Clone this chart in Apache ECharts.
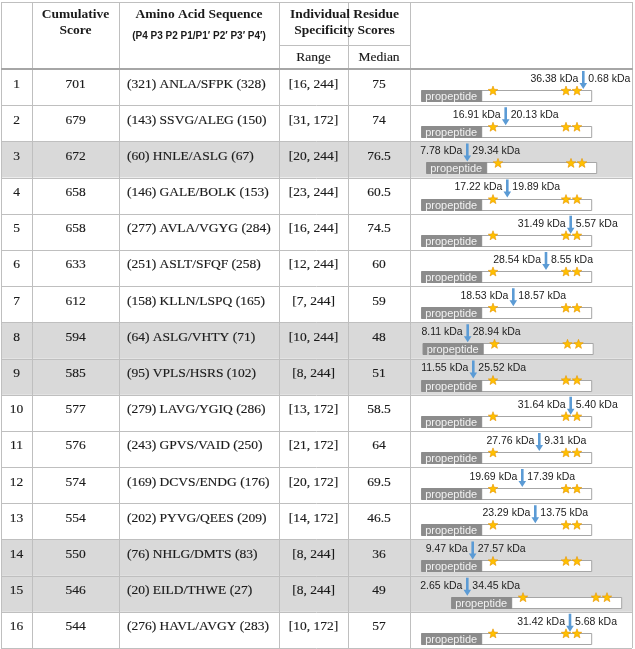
<!DOCTYPE html>
<html>
<head>
<meta charset="utf-8">
<title>Cleavage sites</title>
<script src="https://cdn.jsdelivr.net/npm/echarts@6/dist/echarts.min.js"></script>
<style>
  html, body { margin: 0; padding: 0; background: #fff; }
  #chart { width: 635px; height: 649px; }
</style>
</head>
<body>
<div id="chart"></div>
<script>
// table values
const ranks = ['1', '2', '3', '4', '5', '6', '7', '8', '9', '10', '11', '12', '13', '14', '15', '16'];
const scores = [701, 679, 672, 658, 658, 633, 612, 594, 585, 577, 576, 574, 554, 550, 546, 544];
const sequences = [
  '(321) ANLA/SFPK (328)', '(143) SSVG/ALEG (150)', '(60) HNLE/ASLG (67)', '(146) GALE/BOLK (153)',
  '(277) AVLA/VGYG (284)', '(251) ASLT/SFQF (258)', '(158) KLLN/LSPQ (165)', '(64) ASLG/VHTY (71)',
  '(95) VPLS/HSRS (102)', '(279) LAVG/YGIQ (286)', '(243) GPVS/VAID (250)', '(169) DCVS/ENDG (176)',
  '(202) PYVG/QEES (209)', '(76) NHLG/DMTS (83)', '(20) EILD/THWE (27)', '(276) HAVL/AVGY (283)'
];
const rangeLow = [16, 31, 20, 23, 16, 12, 7, 10, 8, 13, 21, 20, 14, 8, 8, 10];
const rangeHigh = [244, 172, 244, 244, 244, 244, 244, 244, 244, 172, 172, 172, 172, 244, 244, 172];
const medians = [75, 74, 76.5, 60.5, 74.5, 60, 59, 48, 51, 58.5, 64, 69.5, 46.5, 36, 49, 57];
const shadedRows = [3, 8, 9, 14, 15];

// fragment masses either side of the cut
const leftMass = [36.38, 16.91, 7.78, 17.22, 31.49, 28.54, 18.53, 8.11, 11.55, 31.64, 27.76, 19.69, 23.29, 9.47, 2.65, 31.42];
const rightMass = [0.68, 20.13, 29.34, 19.89, 5.57, 8.55, 18.57, 28.94, 25.52, 5.40, 9.31, 17.39, 13.75, 27.57, 34.45, 5.68];
// diagram units: where each protein drawing starts and where the cut arrow sits
const propStart = [0, 0, 5, 0, 0, 0, 0, 1.5, 0, 0, 0, 0, 0, 0, 30, 0];
const cutSite = [161.6, 84, 45.6, 85.6, 149, 124.3, 91.6, 46, 51.6, 149, 117.6, 100.6, 113.6, 51, 45.6, 148.3];
const starSites = [71.3, 144.3, 155.3];
const propLength = 60;
const proteinLength = 170;

const lineColor = '#bfbfbf';
const textColor = '#1a1a1a';
const serif = '"Liberation Serif", "Times New Roman", serif';
const sans = '"Liberation Sans", Arial, sans-serif';
const colEdges = [1, 32, 119, 279, 348, 410, 632];

function txt(x, y, text, font, align, fill, weight) {
  const style = {
    x: x, y: y, text: text, font: font, fill: fill || textColor,
    align: align || 'center', verticalAlign: 'middle',
    textAlign: align || 'center', textVerticalAlign: 'middle'
  };
  if (weight) {
    style.stroke = fill || textColor;
    style.lineWidth = weight;
  }
  return { type: 'text', style: style };
}

function rowBox(api, i) {
  const h = api.size([0, 1])[1];
  const top = api.coord([0, i])[1] - h / 2;
  return { top: top, h: h };
}

function renderShade(params, api) {
  const i = api.value(0);
  if (shadedRows.indexOf(i + 1) < 0) return;
  const b = rowBox(api, i);
  return {
    type: 'rect',
    shape: { x: colEdges[0], y: b.top, width: colEdges[6] - colEdges[0], height: b.h },
    style: { fill: '#d9d9d9' }
  };
}

function renderCells(params, api) {
  const i = api.value(0);
  const b = rowBox(api, i);
  const y = b.top + 15;
  const font = '13.5px ' + serif;
  const w = 0.15;
  const lineY = Math.round(b.top + b.h) + 0.5;
  return {
    type: 'group',
    children: [
      {
        type: 'line',
        shape: { x1: colEdges[0], y1: lineY, x2: colEdges[6], y2: lineY },
        style: { stroke: lineColor, lineWidth: 1 }
      },
      txt(api.coord([16.5, i])[0], y, ranks[i], font, 'center', null, w),
      txt(api.coord([75.5, i])[0], y, String(scores[i]), font, 'center', null, w),
      txt(api.coord([127, i])[0], y, sequences[i], font, 'left', null, w),
      txt(api.coord([313.5, i])[0], y, '[' + rangeLow[i] + ', ' + rangeHigh[i] + ']', font, 'center', null, w),
      txt(api.coord([379, i])[0], y, String(medians[i]), font, 'center', null, w)
    ]
  };
}

function starPoints(cx, cy, ro, ri) {
  const pts = [];
  for (let k = 0; k < 10; k++) {
    const a = -Math.PI / 2 + k * Math.PI / 5;
    const r = k % 2 ? ri : ro;
    pts.push([cx + r * Math.cos(a), cy + r * Math.sin(a)]);
  }
  return pts;
}

function renderDiagram(params, api) {
  const i = api.value(0);
  const s = api.value(1);
  const b = rowBox(api, i);
  const x0 = api.coord([s, i])[0];
  const xp = api.coord([s + propLength, i])[0];
  const x1 = api.coord([s + proteinLength, i])[0];
  const xa = api.coord([api.value(2), i])[0];
  const barTop = Math.round(b.top + 21) + 0.5;
  const children = [
    {
      type: 'rect',
      shape: { x: x0, y: barTop, width: x1 - x0, height: 11 },
      style: { fill: '#fff', stroke: '#a6a6a6', lineWidth: 1 }
    },
    {
      type: 'rect',
      shape: { x: x0, y: barTop, width: xp - x0, height: 11 },
      style: { fill: '#8c8c8c', stroke: '#8c8c8c', lineWidth: 1 }
    },
    txt(x0 + 3.5, barTop + 6, 'propeptide', '11px ' + sans, 'left', '#f2f2f2')
  ];
  starSites.forEach(function (off) {
    const cx = api.coord([s + off, i])[0];
    children.push({
      type: 'polygon',
      shape: { points: starPoints(cx, b.top + 22, 5, 2.1) },
      style: { fill: '#ffc000', stroke: '#e59400', lineWidth: 0.6 }
    });
  });
  const ay0 = b.top + 2, ay1 = b.top + 20;
  children.push({
    type: 'polygon',
    shape: {
      points: [
        [xa - 1.3, ay0], [xa + 1.3, ay0], [xa + 1.3, ay1 - 6], [xa + 3.8, ay1 - 6],
        [xa, ay1], [xa - 3.8, ay1 - 6], [xa - 1.3, ay1 - 6]
      ]
    },
    style: { fill: '#5b9bd5' }
  });
  const ly = b.top + 10;
  children.push(txt(xa - 5, ly, api.value(3).toFixed(2) + ' kDa', '10.5px ' + sans, 'right', '#222'));
  children.push(txt(xa + 5, ly, api.value(4).toFixed(2) + ' kDa', '10.5px ' + sans, 'left', '#222'));
  return { type: 'group', children: children };
}

const rowData = ranks.map(function (r, i) {
  return [i, propStart[i], cutSite[i], leftMass[i], rightMass[i]];
});

// table frame and header
const frame = [];
const hl = function (y, xa, xb, w, c) {
  frame.push({
    type: 'line', z: 100,
    shape: { x1: xa, y1: y, x2: xb, y2: y },
    style: { stroke: c || lineColor, lineWidth: w || 1 }
  });
};
colEdges.forEach(function (x) {
  frame.push({
    type: 'line', z: 100,
    shape: { x1: x + 0.5, y1: 2.5, x2: x + 0.5, y2: 648 },
    style: { stroke: lineColor, lineWidth: 1 }
  });
});
hl(2.5, colEdges[0], colEdges[6] + 1);
hl(45.5, colEdges[3], colEdges[5]);
hl(69, colEdges[0], colEdges[6] + 1, 2, '#a6a6a6');
const hb = 'bold 13.5px ' + serif;
[
  txt(75.5, 15, 'Cumulative', hb), txt(75.5, 31, 'Score', hb),
  txt(199, 15, 'Amino Acid Sequence', hb),
  txt(199, 36, '(P4 P3 P2 P1/P1\u2032 P2\u2032 P3\u2032 P4\u2032)', 'bold 10px ' + sans),
  txt(344.5, 15, 'Individual Residue', hb), txt(344.5, 31, 'Specificity Scores', hb),
  txt(313.5, 57, 'Range', '13.5px ' + serif, 'center', null, 0.15),
  txt(379, 57, 'Median', '13.5px ' + serif, 'center', null, 0.15)
].forEach(function (t) { t.z = 100; frame.push(t); });

const chart = echarts.init(document.getElementById('chart'), null, { renderer: 'canvas' });
chart.setOption({
  animation: false,
  backgroundColor: '#fff',
  graphic: { elements: frame },
  grid: [
    { left: 0, right: 0, top: 69, bottom: 1 },
    { left: 421.7, width: 200, top: 69, bottom: 1 }
  ],
  xAxis: [
    { type: 'value', gridIndex: 0, min: 0, max: 635, show: false },
    { type: 'value', gridIndex: 1, min: 0, max: 200, show: false }
  ],
  yAxis: [
    { type: 'category', gridIndex: 0, data: ranks, inverse: true, show: false },
    { type: 'category', gridIndex: 1, data: ranks, inverse: true, show: false }
  ],
  series: [
    { type: 'custom', xAxisIndex: 0, yAxisIndex: 0, renderItem: renderShade, data: rowData, silent: true },
    { type: 'custom', xAxisIndex: 0, yAxisIndex: 0, renderItem: renderCells, data: rowData, silent: true },
    { type: 'custom', xAxisIndex: 1, yAxisIndex: 1, renderItem: renderDiagram, data: rowData, silent: true }
  ]
});
</script>
</body>
</html>
